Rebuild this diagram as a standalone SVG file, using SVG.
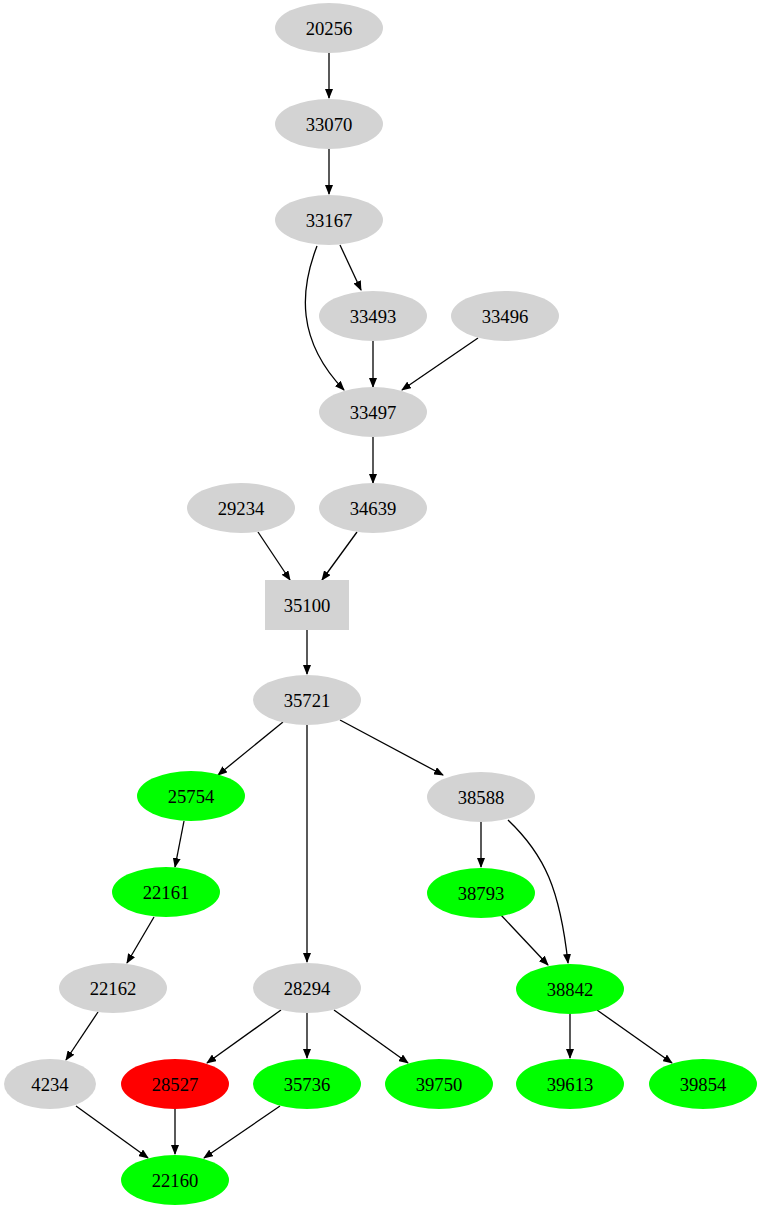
<svg xmlns="http://www.w3.org/2000/svg" width="762" height="1211" viewBox="0 0 762 1211">
<style>
.g{fill:#d3d3d3}.gr{fill:#00ff00}.r{fill:#ff0000}
text{font-family:"Liberation Serif",serif;font-size:18.67px;text-anchor:middle;dominant-baseline:central;fill:#000}
#edges path{stroke:#000;stroke-width:1.3;fill:none;marker-end:url(#a)}
</style>
<defs><marker id="a" markerWidth="10" markerHeight="8" refX="9" refY="4" orient="auto" markerUnits="userSpaceOnUse"><path d="M0,0L10,4L0,8z" fill="#000"/></marker></defs>
<rect width="762" height="1211" fill="#fff"/>
<g id="edges">
<path d="M329,53V98"/>
<path d="M329,149V194"/>
<path d="M340,245L361,290"/>
<path d="M317,246C300,290 296,340 344,390"/>
<path d="M373,341V387"/>
<path d="M478,338L402,390"/>
<path d="M373,437V483"/>
<path d="M258,532L290,580"/>
<path d="M357,532L322,580"/>
<path d="M307,630V674"/>
<path d="M283,722L218,775"/>
<path d="M340,720L443,775"/>
<path d="M307,725V962"/>
<path d="M184,821L175,867"/>
<path d="M154,917L127,963"/>
<path d="M481,822V867"/>
<path d="M508,820C545,855 560,890 568,963"/>
<path d="M501,915L548,965"/>
<path d="M98,1012L66,1060"/>
<path d="M281,1010L207,1063"/>
<path d="M307,1013V1058"/>
<path d="M334,1010L408,1063"/>
<path d="M570,1014V1058"/>
<path d="M597,1010L672,1063"/>
<path d="M76,1106L148,1158"/>
<path d="M175,1109V1154"/>
<path d="M280,1106L204,1158"/>
</g>
<g id="n20256"><ellipse class="g" cx="329" cy="28" rx="54" ry="25"/><text x="329" y="28">20256</text></g>
<g id="n33070"><ellipse class="g" cx="329" cy="124" rx="54" ry="25"/><text x="329" y="124">33070</text></g>
<g id="n33167"><ellipse class="g" cx="329" cy="220" rx="54" ry="25"/><text x="329" y="220">33167</text></g>
<g id="n33493"><ellipse class="g" cx="373" cy="316" rx="54" ry="25"/><text x="373" y="316">33493</text></g>
<g id="n33496"><ellipse class="g" cx="505" cy="316" rx="54" ry="25"/><text x="505" y="316">33496</text></g>
<g id="n33497"><ellipse class="g" cx="373" cy="412" rx="54" ry="25"/><text x="373" y="412">33497</text></g>
<g id="n29234"><ellipse class="g" cx="241" cy="508" rx="54" ry="25"/><text x="241" y="508">29234</text></g>
<g id="n34639"><ellipse class="g" cx="373" cy="508" rx="54" ry="25"/><text x="373" y="508">34639</text></g>
<g id="n35100"><rect class="g" x="265" y="580" width="84" height="50"/><text x="307" y="605">35100</text></g>
<g id="n35721"><ellipse class="g" cx="307" cy="700" rx="54" ry="25"/><text x="307" y="700">35721</text></g>
<g id="n25754"><ellipse class="gr" cx="191" cy="796" rx="54" ry="25"/><text x="191" y="796">25754</text></g>
<g id="n38588"><ellipse class="g" cx="481" cy="797" rx="54" ry="25"/><text x="481" y="797">38588</text></g>
<g id="n22161"><ellipse class="gr" cx="166" cy="892" rx="54" ry="25"/><text x="166" y="892">22161</text></g>
<g id="n38793"><ellipse class="gr" cx="481" cy="893" rx="54" ry="25"/><text x="481" y="893">38793</text></g>
<g id="n22162"><ellipse class="g" cx="113" cy="988" rx="54" ry="25"/><text x="113" y="988">22162</text></g>
<g id="n28294"><ellipse class="g" cx="307" cy="988" rx="54" ry="25"/><text x="307" y="988">28294</text></g>
<g id="n38842"><ellipse class="gr" cx="570" cy="989" rx="54" ry="25"/><text x="570" y="989">38842</text></g>
<g id="n4234"><ellipse class="g" cx="50" cy="1084" rx="46" ry="25"/><text x="50" y="1084">4234</text></g>
<g id="n28527"><ellipse class="r" cx="175" cy="1084" rx="54" ry="25"/><text x="175" y="1084">28527</text></g>
<g id="n35736"><ellipse class="gr" cx="307" cy="1084" rx="54" ry="25"/><text x="307" y="1084">35736</text></g>
<g id="n39750"><ellipse class="gr" cx="439" cy="1084" rx="54" ry="25"/><text x="439" y="1084">39750</text></g>
<g id="n39613"><ellipse class="gr" cx="570" cy="1084" rx="54" ry="25"/><text x="570" y="1084">39613</text></g>
<g id="n39854"><ellipse class="gr" cx="703" cy="1084" rx="54" ry="25"/><text x="703" y="1084">39854</text></g>
<g id="n22160"><ellipse class="gr" cx="175" cy="1180" rx="54" ry="25"/><text x="175" y="1180">22160</text></g>
</svg>
